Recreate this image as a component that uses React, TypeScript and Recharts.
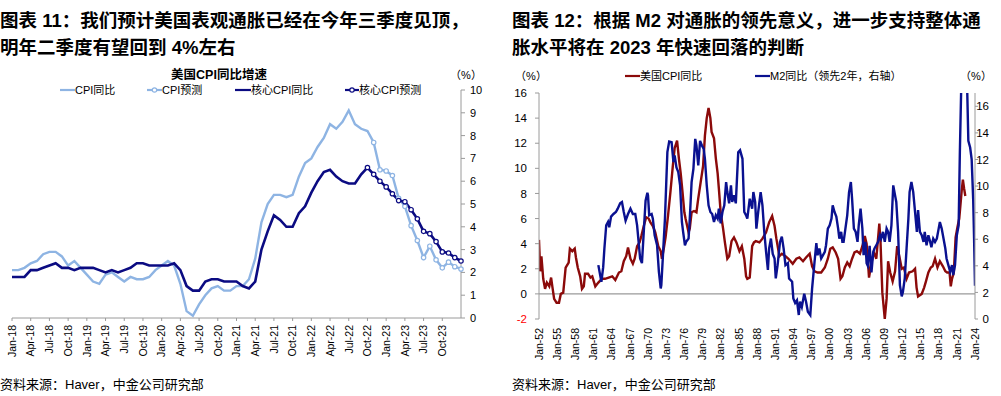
import React from 'react';
import { LineChart, Line, XAxis, YAxis, ReferenceLine } from 'recharts';

const FONT = "'Liberation Sans', Arial, 'Noto Sans CJK SC', sans-serif";
const LIGHT = '#8EB4E3';
const NAVY = '#0B0B82';
const RED = '#8B0A0A';
const BLUE = '#0A1190';
const AXIS = '#9A9A9A';

// ---------------- Left chart (图表 11) ----------------
const leftMonthLabels = [
  'Jan-18', 'Apr-18', 'Jul-18', 'Oct-18', 'Jan-19', 'Apr-19', 'Jul-19', 'Oct-19',
  'Jan-20', 'Apr-20', 'Jul-20', 'Oct-20', 'Jan-21', 'Apr-21', 'Jul-21', 'Oct-21',
  'Jan-22', 'Apr-22', 'Jul-22', 'Oct-22', 'Jan-23', 'Apr-23', 'Jul-23', 'Oct-23',
];
const leftMonthCount = 73;
const leftYTicks = [0, 1, 2, 3, 4, 5, 6, 7, 8, 9, 10];

const cpiActual = [
  2.1, 2.1, 2.2, 2.4, 2.5, 2.8, 2.9, 2.9, 2.7, 2.3,
  2.5, 2.2, 1.9, 1.6, 1.5, 1.9, 2.0, 1.8, 1.6, 1.8,
  1.7, 1.7, 1.8, 2.1, 2.3, 2.5, 2.3, 1.5, 0.3, 0.1,
  0.6, 1.0, 1.3, 1.4, 1.2, 1.2, 1.4, 1.4, 1.7, 2.6,
  4.2, 5.0, 5.4, 5.4, 5.3, 5.4, 6.2, 6.8, 7.0, 7.5,
  7.9, 8.5, 8.3, 8.6, 9.1, 8.5, 8.3, 8.2, 7.7,
];
const cpiForecastStart = 58;
const cpiForecast = [7.7, 6.5, 6.45, 6.25, 5.25, 4.9, 4.05, 3.4, 2.65, 3.15, 2.55, 2.2, 2.45, 2.25, 2.15];

const coreActual = [
  1.8, 1.8, 1.8, 2.1, 2.1, 2.2, 2.3, 2.4, 2.2, 2.2,
  2.1, 2.2, 2.2, 2.2, 2.1, 2.0, 2.1, 2.0, 2.1, 2.2,
  2.4, 2.4, 2.3, 2.3, 2.3, 2.3, 2.4, 2.1, 1.4, 1.2,
  1.2, 1.6, 1.7, 1.7, 1.6, 1.6, 1.6, 1.4, 1.3, 1.6,
  3.0, 3.8, 4.5, 4.3, 4.0, 4.0, 4.6, 4.9, 5.5, 6.0,
  6.4, 6.5, 6.2, 6.0, 5.9, 5.9, 6.3, 6.6,
];
const coreForecastStart = 57;
const coreForecast = [6.6, 6.3, 6.0, 5.75, 5.45, 5.15, 5.1, 4.75, 4.35, 3.8, 3.7, 3.35, 2.9, 2.85, 2.65, 2.5];

// ---------------- Right chart (图表 12) ----------------
const rightYearTicks = [1952, 1955, 1958, 1961, 1964, 1967, 1970, 1973, 1976, 1979, 1982, 1985, 1988, 1991, 1994, 1997, 2000, 2003, 2006, 2009, 2012, 2015, 2018, 2021, 2024];
const rightYearLabels = ['Jan-52', 'Jan-55', 'Jan-58', 'Jan-61', 'Jan-64', 'Jan-67', 'Jan-70', 'Jan-73', 'Jan-76', 'Jan-79', 'Jan-82', 'Jan-85', 'Jan-88', 'Jan-91', 'Jan-94', 'Jan-97', 'Jan-00', 'Jan-03', 'Jan-06', 'Jan-09', 'Jan-12', 'Jan-15', 'Jan-18', 'Jan-21', 'Jan-24'];
const rightLeftTicks = [-2, 0, 2, 4, 6, 8, 10, 12, 14, 16];
const rightRightTicks = [0, 2, 4, 6, 8, 10, 12, 14, 16];

const usCpiPoints: [number, number][] = [
  [1952.0, 4.3], [1952.2, 1.8], [1952.4, 3.0], [1952.7, 1.2], [1953.0, 0.4], [1953.3, 0.9], [1953.7, 0.6], [1954.0, 1.3], [1954.2, 0.6], [1954.5, -0.4],
  [1954.9, -0.7], [1955.3, -0.7], [1955.6, 0.0], [1956.0, 0.1], [1956.4, 2.1], [1956.9, 2.5], [1957.1, 3.6], [1957.5, 3.4], [1957.9, 3.6], [1958.1, 2.9],
  [1958.4, 2.1], [1958.8, 1.4], [1959.1, 0.4], [1959.4, 0.6], [1959.6, 1.6], [1960.1, 1.6], [1960.5, 1.3], [1960.8, 1.4], [1961.3, 0.6], [1961.8, 0.9],
  [1962.4, 1.2], [1962.9, 1.2], [1963.5, 1.3], [1964.1, 1.4], [1964.6, 1.1], [1965.2, 1.7], [1965.6, 1.8], [1966.0, 2.6], [1966.4, 3.0], [1966.7, 3.7],
  [1967.1, 2.8], [1967.5, 2.4], [1967.8, 2.8], [1968.2, 3.8], [1968.6, 4.1], [1968.9, 4.6], [1969.3, 5.4], [1969.7, 6.1], [1970.1, 6.0], [1970.4, 5.7],
  [1970.8, 5.4], [1971.2, 4.9], [1971.7, 3.8], [1972.1, 3.4], [1972.3, 2.8], [1972.6, 3.6], [1972.9, 4.5], [1973.3, 6.2], [1973.7, 8.1], [1974.1, 10.2],
  [1974.4, 11.6], [1974.8, 12.2], [1975.1, 10.8], [1975.4, 9.6], [1975.7, 8.1], [1976.0, 6.5], [1976.2, 6.0], [1976.7, 4.9], [1976.9, 5.2], [1977.2, 6.5],
  [1977.6, 6.6], [1978.0, 6.5], [1978.3, 7.6], [1978.7, 8.9], [1979.1, 10.2], [1979.4, 12.6], [1979.7, 14.0], [1980.0, 14.8], [1980.3, 14.0], [1980.5, 12.9],
  [1980.9, 12.4], [1981.2, 10.8], [1981.5, 9.6], [1981.7, 8.4], [1982.0, 6.5], [1982.4, 5.2], [1982.7, 4.1], [1983.1, 2.8], [1983.4, 3.0], [1983.8, 4.2],
  [1984.2, 4.5], [1984.6, 4.1], [1985.1, 3.4], [1985.5, 3.8], [1985.9, 2.8], [1986.2, 1.4], [1986.4, 1.2], [1986.8, 1.3], [1987.2, 3.8], [1987.5, 4.1],
  [1987.8, 4.2], [1988.4, 4.1], [1988.9, 4.4], [1989.5, 4.9], [1990.0, 5.7], [1990.5, 6.2], [1990.9, 5.4], [1991.2, 4.4], [1991.7, 3.0], [1992.1, 3.2],
  [1992.7, 3.0], [1993.2, 2.8], [1993.9, 2.4], [1994.5, 2.8], [1995.0, 2.9], [1995.6, 2.6], [1996.1, 2.9], [1996.7, 3.2], [1997.1, 2.2], [1997.5, 1.8],
  [1998.0, 1.7], [1998.6, 1.7], [1999.2, 2.1], [1999.7, 2.8], [2000.1, 3.6], [2000.5, 3.7], [2001.0, 3.3], [2001.4, 2.8], [2001.8, 1.2], [2002.1, 1.4],
  [2002.5, 2.1], [2002.9, 2.5], [2003.3, 2.2], [2003.7, 2.8], [2004.1, 3.3], [2004.5, 3.4], [2005.0, 3.2], [2005.4, 3.8], [2005.8, 4.6], [2006.1, 4.0],
  [2006.5, 1.3], [2006.9, 2.5], [2007.3, 3.3], [2007.7, 2.8], [2008.2, 5.6], [2008.4, 4.1], [2008.7, 0.1], [2009.1, -2.0], [2009.4, -0.4], [2009.65, 2.6],
  [2010.0, 1.7], [2010.4, 1.0], [2010.8, 1.8], [2011.15, 3.8], [2011.5, 3.0], [2011.9, 2.0], [2012.25, 2.1], [2012.7, 1.2], [2013.1, 1.7], [2013.7, 1.8],
  [2014.1, 2.0], [2014.35, 0.5], [2014.6, -0.2], [2015.2, 0.0], [2015.6, 0.5], [2015.9, 1.0], [2016.3, 1.7], [2016.7, 2.1], [2017.0, 2.2], [2017.4, 2.8],
  [2017.8, 2.1], [2018.2, 2.6], [2018.7, 2.2], [2019.1, 1.8], [2019.4, 1.7], [2019.8, 1.7], [2020.0, 0.6], [2020.2, 1.2], [2020.5, 1.7], [2020.8, 4.5],
  [2021.1, 5.3], [2021.4, 6.0], [2021.8, 8.2], [2022.0, 9.1], [2022.2, 8.4], [2022.4, 7.8],
];

const m2LeadPoints: [number, number][] = [
  [1961.8, 4.05], [1962.3, 2.8], [1962.6, 3.9], [1962.8, 5.3], [1963.1, 7.05], [1963.4, 7.3], [1963.6, 6.9], [1963.9, 7.7], [1964.3, 7.9], [1964.7, 8.05],
  [1965.0, 8.3], [1965.4, 8.7], [1965.7, 8.8], [1966.0, 8.05], [1966.3, 7.4], [1966.7, 7.9], [1967.1, 8.3], [1967.5, 7.9], [1967.9, 7.9], [1968.2, 7.05],
  [1968.5, 5.55], [1968.7, 4.55], [1969.0, 4.2], [1969.3, 6.55], [1969.6, 8.9], [1969.9, 9.5], [1970.0, 9.3], [1970.2, 7.8], [1970.6, 7.9], [1970.8, 7.55],
  [1971.1, 6.3], [1971.5, 5.55], [1971.8, 3.55], [1972.1, 2.3], [1972.2, 2.55], [1972.5, 5.05], [1972.8, 7.55], [1973.0, 10.05], [1973.2, 12.55], [1973.5, 13.35],
  [1973.9, 13.3], [1974.2, 11.8], [1974.4, 12.3], [1974.7, 11.4], [1975.0, 11.05], [1975.3, 10.05], [1975.6, 7.3], [1975.8, 6.55], [1976.1, 5.55], [1976.3, 5.8],
  [1976.7, 6.05], [1976.9, 7.55], [1977.2, 10.3], [1977.5, 11.3], [1977.8, 13.55], [1978.0, 13.05], [1978.3, 11.55], [1978.6, 13.4], [1978.9, 13.05], [1979.2, 12.8],
  [1979.4, 12.05], [1979.7, 10.05], [1980.0, 8.55], [1980.3, 8.05], [1980.6, 7.9], [1980.9, 7.3], [1981.2, 7.8], [1981.5, 7.55], [1981.7, 8.3], [1982.0, 7.2],
  [1982.3, 8.05], [1982.6, 8.55], [1982.9, 10.3], [1983.1, 9.55], [1983.4, 8.7], [1983.7, 10.05], [1983.9, 8.8], [1984.2, 9.3], [1984.5, 8.7], [1984.9, 12.55],
  [1985.2, 12.7], [1985.6, 12.05], [1985.9, 8.05], [1986.2, 7.8], [1986.4, 7.55], [1986.8, 9.05], [1987.2, 8.3], [1987.4, 9.55], [1987.7, 8.8], [1987.9, 6.8],
  [1988.2, 8.05], [1988.6, 9.55], [1988.9, 8.55], [1989.2, 6.55], [1989.5, 5.05], [1989.8, 3.7], [1990.0, 5.3], [1990.3, 6.05], [1990.6, 4.9], [1990.9, 4.55],
  [1991.1, 3.05], [1991.4, 4.05], [1991.8, 5.8], [1992.1, 6.2], [1992.4, 5.3], [1992.7, 4.05], [1993.1, 4.2], [1993.3, 3.05], [1993.8, 2.8], [1994.0, 1.55],
  [1994.3, 1.2], [1994.6, 1.4], [1994.9, 0.3], [1995.1, 1.3], [1995.4, 0.9], [1995.8, 1.9], [1996.1, 1.3], [1996.4, 0.55], [1996.8, 0.3], [1997.1, 2.3],
  [1997.5, 4.3], [1997.8, 5.7], [1998.0, 4.8], [1998.3, 5.3], [1998.6, 4.55], [1998.9, 4.8], [1999.2, 5.05], [1999.4, 5.55], [1999.7, 6.8], [2000.0, 7.05],
  [2000.3, 7.55], [2000.5, 8.55], [2000.8, 8.05], [2001.1, 7.7], [2001.4, 6.8], [2001.6, 6.05], [2001.9, 6.55], [2002.1, 5.8], [2002.3, 5.8], [2002.6, 6.8],
  [2002.9, 7.8], [2003.2, 9.55], [2003.5, 10.3], [2003.7, 9.05], [2004.0, 6.8], [2004.3, 6.55], [2004.6, 5.8], [2004.8, 7.05], [2005.1, 8.3], [2005.4, 6.8],
  [2005.6, 4.8], [2005.9, 5.8], [2006.1, 4.2], [2006.3, 4.0], [2006.6, 5.5], [2006.9, 3.5], [2007.2, 5.05], [2007.4, 5.3], [2007.7, 5.55], [2008.0, 5.8],
  [2008.3, 6.3], [2008.5, 6.05], [2008.8, 6.55], [2009.1, 5.8], [2009.4, 6.8], [2009.65, 6.55], [2009.9, 5.8], [2010.2, 7.05], [2010.5, 10.05], [2010.8, 9.3],
  [2011.0, 8.8], [2011.3, 6.55], [2011.6, 2.55], [2011.9, 1.7], [2012.1, 2.05], [2012.4, 3.05], [2012.7, 5.3], [2013.0, 7.55], [2013.2, 9.55], [2013.5, 10.3],
  [2013.8, 9.55], [2014.1, 8.05], [2014.4, 6.55], [2014.6, 8.2], [2014.9, 6.55], [2015.2, 6.3], [2015.5, 5.8], [2015.7, 6.55], [2016.0, 5.55], [2016.3, 6.3],
  [2016.6, 5.8], [2016.8, 5.4], [2017.1, 6.05], [2017.4, 5.8], [2017.7, 6.05], [2018.0, 6.8], [2018.2, 7.3], [2018.5, 6.8], [2018.8, 6.05], [2019.1, 5.3],
  [2019.3, 4.55], [2019.6, 4.05], [2019.9, 3.55], [2020.2, 4.05], [2020.4, 3.3], [2020.7, 4.05], [2021.0, 6.3], [2021.3, 7.05], [2021.5, 12.55], [2021.75, 18],
  [2022.0, 25], [2022.4, 25], [2022.7, 17.5], [2022.9, 13.4], [2023.2, 12.9], [2023.45, 12.0], [2023.7, 9.0], [2023.85, 6.0], [2024.0, 2.5],
];

// ---------------- Tables built from the arrays ----------------
const leftData = Array.from({ length: leftMonthCount }, (_, i) => ({
  i,
  cpi: i < cpiActual.length ? cpiActual[i] : null,
  cpiF: i >= cpiForecastStart ? cpiForecast[i - cpiForecastStart] : null,
  core: i < coreActual.length ? coreActual[i] : null,
  coreF: i >= coreForecastStart ? coreForecast[i - coreForecastStart] : null,
}));
const leftTicks = leftMonthLabels.map((_, k) => k * 3);
const cpiData = usCpiPoints.map(([x, v]) => ({ x, v }));
const m2Data = m2LeadPoints.map(([x, v]) => ({ x, v }));

function RotatedTick(props: any) {
  const { x, y, payload, labelOf, fontSize } = props;
  return (
    <g transform={`translate(${x},${y})`}>
      <text transform="rotate(-90)" textAnchor="end" dy="0.36em" fontSize={fontSize} fontFamily={FONT} fill="#000">
        {labelOf(payload.value)}
      </text>
    </g>
  );
}

function ValueTick(props: any) {
  const { x, y, payload, anchor, fontSize } = props;
  const v = payload.value;
  return (
    <text x={x} y={y} dy="0.36em" textAnchor={anchor} fontSize={fontSize} fontFamily={FONT} fill={v < 0 ? '#FF0000' : '#000'}>
      {v}
    </text>
  );
}

function LeftChart() {
  const markerDot = (c: string) => ({ r: 2.2, fill: '#fff', stroke: c, strokeWidth: 1.2 });
  return (
    <LineChart width={500} height={396} data={leftData} margin={{ top: 90, right: 9, bottom: 28, left: 12 }}>
      <XAxis
        dataKey="i"
        type="number"
        domain={[0, leftMonthCount - 1]}
        ticks={leftTicks}
        interval={0}
        height={50}
        tickSize={3}
        tickMargin={4}
        axisLine={{ stroke: AXIS }}
        tickLine={{ stroke: AXIS }}
        tick={(p: any) => <RotatedTick {...p} fontSize={10.5} labelOf={(v: number) => leftMonthLabels[Math.round(v / 3)]} />}
      />
      <YAxis
        orientation="right"
        domain={[0, 10]}
        ticks={leftYTicks}
        interval={0}
        width={30}
        tickSize={4}
        tickMargin={5}
        axisLine={{ stroke: AXIS }}
        tickLine={{ stroke: AXIS }}
        tick={(p: any) => <ValueTick {...p} anchor="start" fontSize={11} />}
      />
      <Line dataKey="cpi" stroke={LIGHT} strokeWidth={2.4} dot={false} isAnimationActive={false} />
      <Line dataKey="cpiF" stroke={LIGHT} strokeWidth={2.4} dot={markerDot(LIGHT)} isAnimationActive={false} />
      <Line dataKey="core" stroke={NAVY} strokeWidth={2.6} dot={false} isAnimationActive={false} />
      <Line dataKey="coreF" stroke={NAVY} strokeWidth={2.6} dot={markerDot(NAVY)} isAnimationActive={false} />
    </LineChart>
  );
}

function RightChart() {
  return (
    <LineChart width={501} height={396} margin={{ top: 93, right: 6, bottom: 27, left: 9 }}>
      <XAxis
        dataKey="x"
        type="number"
        domain={[1952, 2024]}
        ticks={rightYearTicks}
        interval={0}
        height={50}
        tickSize={0}
        tickMargin={9}
        axisLine={false}
        tickLine={false}
        allowDataOverflow
        tick={(p: any) => <RotatedTick {...p} fontSize={10.5} labelOf={(v: number) => rightYearLabels[rightYearTicks.indexOf(v)]} />}
      />
      <YAxis
        yAxisId="l"
        domain={[-2, 16]}
        ticks={rightLeftTicks}
        interval={0}
        width={30}
        tickSize={4}
        tickMargin={8}
        axisLine={{ stroke: AXIS }}
        tickLine={{ stroke: AXIS }}
        tick={(p: any) => <ValueTick {...p} anchor="end" fontSize={11.5} />}
      />
      <YAxis
        yAxisId="r"
        orientation="right"
        domain={[0, 17]}
        ticks={rightRightTicks}
        interval={0}
        allowDataOverflow
        width={20}
        tickSize={3}
        tickMargin={11}
        axisLine={{ stroke: AXIS }}
        tickLine={{ stroke: AXIS }}
        tick={(p: any) => <ValueTick {...p} anchor="end" fontSize={11.5} />}
      />
      <ReferenceLine yAxisId="l" y={0} stroke={AXIS} strokeWidth={1.2} />
      <Line data={cpiData} yAxisId="l" dataKey="v" stroke={RED} strokeWidth={2.4} dot={false} isAnimationActive={false} />
      <Line data={m2Data} yAxisId="r" dataKey="v" stroke={BLUE} strokeWidth={2.4} dot={false} isAnimationActive={false} />
    </LineChart>
  );
}

function T(props: any) {
  const { x, y, size = 11, bold = false, anchor = 'start', children, fill = '#000' } = props;
  return (
    <text x={x} y={y} fontSize={size} fontWeight={bold ? 700 : 400} textAnchor={anchor} dominantBaseline="central" fontFamily={FONT} fill={fill}>
      {children}
    </text>
  );
}

function LegendLine(props: any) {
  const { x1, x2, y, color, marker, width = 2.2 } = props;
  return (
    <g>
      <line x1={x1} x2={x2} y1={y} y2={y} stroke={color} strokeWidth={width} />
      {marker ? <circle cx={(x1 + x2) / 2} cy={y} r={2.2} fill="#fff" stroke={color} strokeWidth={1.2} /> : null}
    </g>
  );
}

function Overlay() {
  return (
    <svg width={1001} height={396} style={{ position: 'absolute', left: 0, top: 0, pointerEvents: 'none' }}>
      {/* Left panel texts */}
      <T x={0} y={20} size={18.5} bold>图表 11：我们预计美国表观通胀已经在今年三季度见顶，</T>
      <T x={0} y={47} size={18.5} bold>明年二季度有望回到 4%左右</T>
      <T x={219} y={75} size={12.5} bold anchor="middle">美国CPI同比增速</T>
      <T x={466} y={75} size={11} anchor="middle">（%）</T>
      <LegendLine x1={60} x2={75} y={90} color={LIGHT} />
      <T x={75} y={90} size={11}>CPI同比</T>
      <LegendLine x1={147} x2={162} y={90} color={LIGHT} marker />
      <T x={162} y={90} size={11}>CPI预测</T>
      <LegendLine x1={235} x2={251} y={90} color={NAVY} />
      <T x={251} y={90} size={11}>核心CPI同比</T>
      <LegendLine x1={345} x2={359} y={90} color={NAVY} marker />
      <T x={359} y={90} size={11}>核心CPI预测</T>
      <T x={0} y={384} size={13}>资料来源：Haver，中金公司研究部</T>

      {/* Right panel texts */}
      <T x={512} y={20} size={18.5} bold>图表 12：根据 M2 对通胀的领先意义，进一步支持整体通</T>
      <T x={512} y={47} size={18.5} bold>胀水平将在 2023 年快速回落的判断</T>
      <T x={531} y={76} size={11} anchor="middle">（%）</T>
      <T x={976} y={76} size={11} anchor="middle">（%）</T>
      <LegendLine x1={625} x2={640} y={76} color={RED} />
      <T x={640} y={76} size={11}>美国CPI同比</T>
      <LegendLine x1={755} x2={770} y={76} color={BLUE} />
      <T x={770} y={76} size={11}>M2同比（领先2年，右轴）</T>
      <T x={512} y={384} size={13}>资料来源：Haver，中金公司研究部</T>
    </svg>
  );
}

export default function App() {
  return (
    <div style={{ position: 'absolute', left: 0, top: 0, width: 1001, height: 396, background: '#fff', overflow: 'hidden', fontFamily: FONT }}>
      <div style={{ position: 'absolute', left: 0, top: 0 }}>
        <LeftChart />
      </div>
      <div style={{ position: 'absolute', left: 500, top: 0 }}>
        <RightChart />
      </div>
      <Overlay />
    </div>
  );
}
